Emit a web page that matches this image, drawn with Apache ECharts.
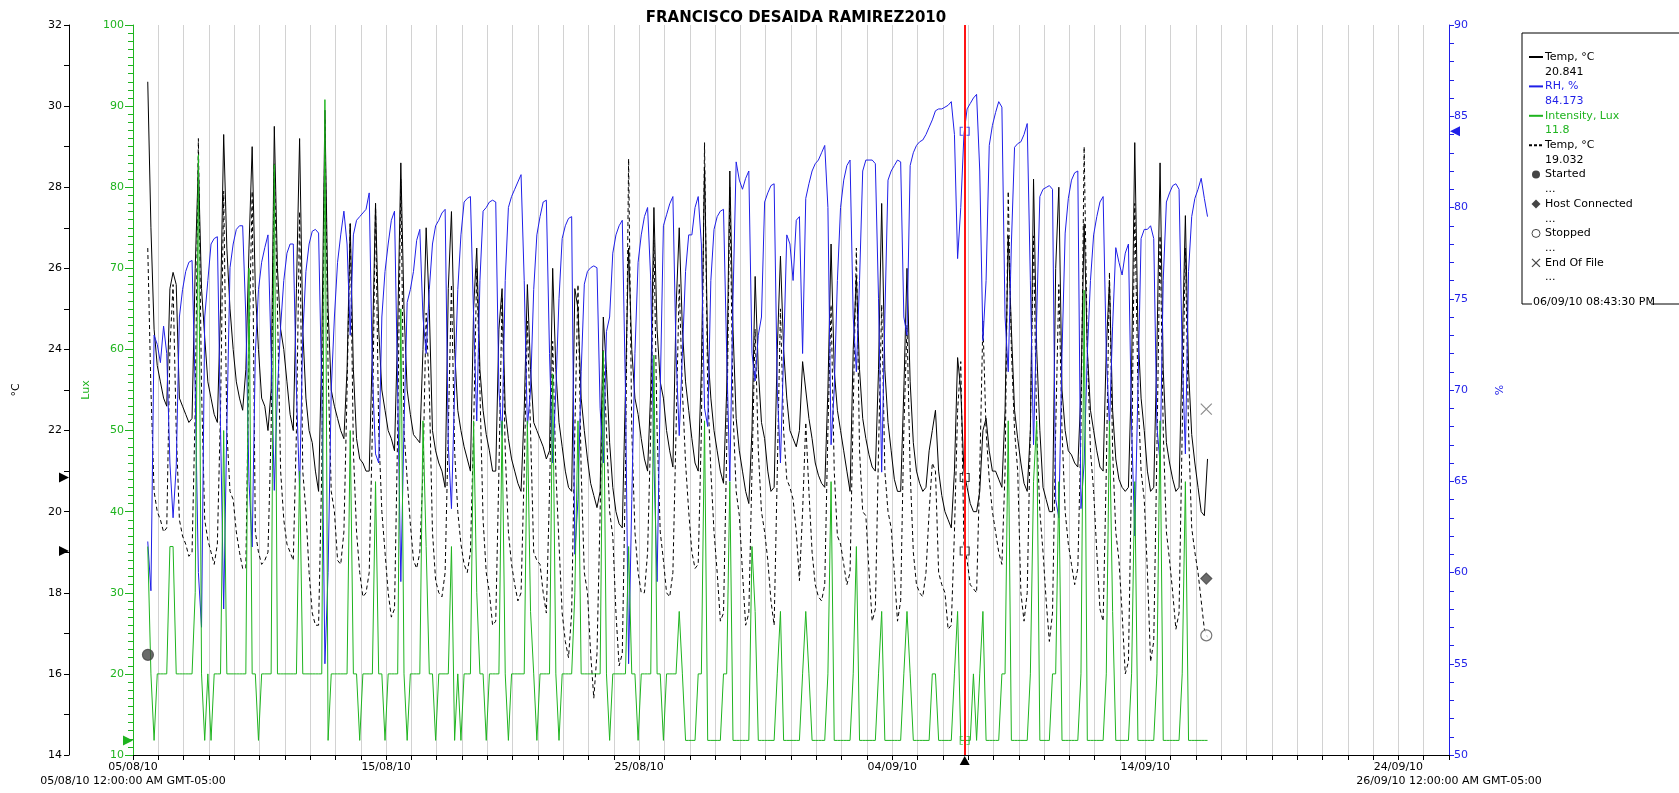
<!DOCTYPE html>
<html>
<head>
<meta charset="utf-8">
<title>FRANCISCO DESAIDA RAMIREZ2010</title>
<script src="https://cdn.jsdelivr.net/npm/echarts@6/dist/echarts.min.js"></script>
<style>
html,body{margin:0;padding:0;background:#fff;}
#chart{width:1679px;height:793px;}
</style>
</head>
<body>
<div id="chart"></div>
<script>
// time base: x axis counts days from 05/08/10 00:00
var startDate = new Date(2010, 7, 5);
var endDay = 52;                       // 26/09/10
var firstSample = 14 / 24;             // first reading 05/08 2 PM
var stepDays = 3 / 24;                 // one value every 3 hours
var cursorTime = new Date(2010, 8, 6, 20, 43, 30);
var cursorDay = (cursorTime - startDate) / 864e5;

// readings at the cursor (legend box)
var cursorTemp = 20.841, cursorRH = 84.173, cursorLux = 11.8, cursorTemp2 = 19.032;

// one row per calendar day, hours 02 05 08 11 14 17 20 23 (first day from 14h, last day to 11h)
var tempRows = [
  [30.6, 27.0, 24.5, 23.6],
  [23.2, 22.8, 22.6, 25.5, 25.9, 25.6, 22.8, 22.6],
  [22.4, 22.2, 22.3, 26.0, 28.6, 25.5, 24.3, 23.2],
  [22.8, 22.4, 22.2, 25.0, 29.3, 26.5, 25.0, 24.0],
  [23.2, 22.8, 22.5, 23.5, 26.5, 29.0, 25.5, 24.0],
  [22.8, 22.6, 22.0, 23.0, 29.5, 26.0, 24.5, 24.0],
  [23.2, 22.4, 22.0, 25.5, 29.2, 24.5, 22.8, 22.0],
  [21.7, 21.0, 20.5, 24.0, 29.9, 25.0, 23.0, 22.6],
  [22.3, 22.0, 21.8, 23.5, 27.1, 23.5, 21.8, 21.3],
  [21.2, 21.0, 21.0, 24.0, 27.6, 24.5, 23.0, 22.5],
  [22.0, 21.8, 21.5, 24.5, 28.6, 25.0, 23.0, 22.4],
  [21.9, 21.8, 21.7, 24.0, 27.0, 25.0, 22.0, 21.5],
  [21.2, 21.0, 20.6, 25.5, 27.4, 24.0, 22.5, 22.0],
  [21.6, 21.3, 21.0, 25.0, 26.5, 23.5, 22.5, 21.9],
  [21.5, 21.0, 21.0, 24.5, 25.5, 22.5, 21.8, 21.3],
  [21.0, 20.7, 20.5, 22.5, 25.6, 23.5, 22.2, 22.0],
  [21.8, 21.6, 21.3, 21.5, 26.0, 23.5, 22.2, 21.6],
  [21.0, 20.6, 20.5, 25.5, 25.0, 22.8, 22.0, 21.3],
  [20.7, 20.4, 20.1, 20.5, 24.8, 23.5, 21.7, 20.6],
  [20.0, 19.7, 19.6, 23.0, 26.5, 24.0, 22.8, 22.4],
  [21.8, 21.3, 21.0, 23.0, 27.5, 24.5, 23.2, 22.8],
  [22.0, 21.5, 21.1, 25.0, 27.0, 24.5, 23.2, 22.5],
  [21.8, 21.2, 21.0, 23.5, 28.5, 24.0, 22.8, 22.0],
  [21.5, 21.0, 20.7, 23.0, 28.4, 24.5, 22.3, 21.5],
  [21.0, 20.5, 20.2, 22.0, 25.8, 23.5, 22.2, 21.8],
  [21.0, 20.5, 20.6, 24.0, 26.3, 24.0, 22.8, 22.0],
  [21.8, 21.6, 22.0, 23.7, 23.0, 22.3, 21.8, 21.2],
  [20.9, 20.7, 20.6, 23.0, 26.6, 23.5, 22.5, 22.0],
  [21.5, 21.0, 20.5, 24.0, 25.8, 23.5, 22.3, 21.8],
  [21.4, 21.1, 21.0, 23.5, 27.6, 23.5, 22.2, 21.5],
  [20.8, 20.5, 20.5, 23.0, 26.0, 23.2, 21.7, 21.0],
  [20.7, 20.5, 20.6, 21.5, 22.0, 22.5, 21.0, 20.4],
  [20.0, 19.8, 19.6, 21.0, 23.8, 23.0, 21.0, 20.6],
  [20.2, 20.0, 20.0, 20.5, 22.0, 22.3, 21.5, 21.0],
  [21.0, 20.8, 20.6, 22.5, 26.8, 24.5, 22.5, 21.8],
  [21.2, 20.7, 20.5, 22.0, 28.2, 24.0, 22.0, 20.6],
  [20.3, 20.0, 20.0, 26.0, 28.0, 23.0, 22.0, 21.5],
  [21.4, 21.2, 21.1, 23.0, 27.1, 24.0, 22.5, 22.0],
  [21.5, 21.1, 21.0, 24.0, 25.7, 22.5, 21.3, 20.8],
  [20.6, 20.5, 20.6, 23.5, 29.1, 24.5, 22.8, 22.0],
  [21.0, 20.5, 20.6, 24.0, 28.6, 23.5, 21.7, 21.2],
  [20.8, 20.5, 20.6, 24.0, 27.3, 23.5, 21.9, 21.2],
  [20.6, 20.0, 19.9, 21.3]
];

var temp2Rows = [
  [26.5, 23.0, 20.5, 20.0],
  [19.8, 19.5, 19.6, 24.0, 25.6, 22.0, 19.8, 19.4],
  [19.2, 18.9, 19.0, 22.5, 29.2, 23.0, 19.8, 19.3],
  [19.0, 18.7, 19.2, 22.5, 27.9, 22.0, 20.5, 20.3],
  [19.5, 19.0, 18.6, 18.6, 24.0, 27.9, 19.5, 19.0],
  [18.7, 18.8, 19.0, 22.0, 28.6, 25.0, 21.0, 19.8],
  [19.2, 19.0, 18.8, 22.0, 27.4, 21.0, 20.0, 18.5],
  [17.5, 17.2, 17.2, 21.0, 29.7, 23.5, 20.5, 20.0],
  [18.8, 18.7, 19.5, 23.0, 27.1, 21.5, 19.5, 18.5],
  [17.9, 18.0, 18.5, 22.0, 27.6, 22.0, 20.0, 19.0],
  [18.0, 17.4, 17.6, 22.0, 28.2, 22.0, 20.8, 19.7],
  [18.8, 18.6, 19.0, 21.0, 24.9, 23.0, 19.5, 18.3],
  [18.0, 17.9, 18.5, 22.0, 25.6, 21.5, 20.0, 19.2],
  [18.7, 18.5, 19.0, 22.0, 26.0, 23.0, 19.8, 18.5],
  [18.0, 17.2, 17.3, 21.0, 25.3, 21.5, 19.5, 18.7],
  [18.2, 17.8, 18.0, 21.0, 24.7, 22.0, 19.0, 18.8],
  [18.7, 18.0, 17.5, 20.5, 24.2, 21.0, 19.2, 17.5],
  [16.8, 16.4, 17.5, 22.0, 25.6, 21.0, 18.5, 18.0],
  [16.5, 15.4, 16.5, 20.0, 24.0, 22.0, 20.0, 19.4],
  [17.5, 16.2, 16.5, 21.0, 28.7, 22.0, 19.5, 18.5],
  [18.0, 18.0, 19.0, 22.0, 26.7, 22.0, 19.5, 18.8],
  [18.0, 17.9, 18.5, 22.0, 25.6, 23.0, 21.2, 20.0],
  [19.0, 18.6, 18.7, 22.0, 29.1, 23.0, 21.0, 19.5],
  [18.5, 17.3, 17.5, 21.5, 28.0, 22.5, 20.5, 19.9],
  [18.5, 17.2, 17.5, 21.0, 24.5, 21.5, 20.0, 19.5],
  [18.8, 17.8, 17.2, 21.0, 25.0, 22.0, 20.8, 20.6],
  [20.3, 19.5, 18.3, 20.0, 22.2, 20.5, 19.0, 18.2],
  [17.9, 17.8, 18.2, 22.0, 25.1, 21.0, 19.4, 19.2],
  [18.7, 18.2, 18.5, 22.5, 26.5, 21.5, 20.0, 19.9],
  [18.5, 17.3, 17.6, 21.5, 25.1, 21.0, 20.0, 19.6],
  [18.5, 17.3, 17.8, 22.0, 24.6, 21.0, 19.0, 18.2],
  [18.0, 17.9, 18.5, 20.0, 21.2, 21.0, 18.5, 18.2],
  [18.0, 17.1, 17.2, 19.5, 22.5, 23.7, 19.2, 18.8],
  [18.2, 18.1, 18.0, 21.0, 24.7, 22.0, 20.8, 20.0],
  [19.5, 19.0, 18.7, 21.0, 27.9, 24.0, 22.0, 21.0],
  [18.0, 17.3, 18.0, 22.0, 26.8, 22.0, 20.0, 19.0],
  [17.8, 16.8, 17.5, 22.0, 25.6, 22.0, 20.0, 19.2],
  [18.7, 18.2, 18.6, 22.0, 29.0, 24.0, 21.5, 20.5],
  [19.0, 17.6, 17.3, 21.0, 25.9, 21.5, 19.5, 18.8],
  [17.5, 16.0, 16.3, 21.0, 27.6, 23.0, 21.0, 20.3],
  [18.5, 16.3, 16.8, 21.5, 26.8, 22.0, 19.5, 18.8],
  [18.0, 17.1, 17.5, 22.0, 26.5, 22.0, 19.6, 19.0],
  [18.5, 17.8, 17.1, 16.9]
];

var rhRows = [
  [61.7, 59.0, 73.0, 72.5],
  [71.5, 73.5, 72.0, 66.0, 63.0, 65.8, 74.0, 75.5],
  [76.5, 77.0, 77.1, 70.0, 60.0, 57.0, 74.0, 76.0],
  [78.0, 78.3, 78.4, 68.0, 58.0, 68.0, 76.7, 78.0],
  [78.8, 79.0, 79.0, 74.0, 65.0, 61.4, 72.0, 75.5],
  [77.0, 77.8, 78.5, 72.0, 64.5, 70.0, 73.5, 76.0],
  [77.5, 78.0, 78.0, 70.0, 64.5, 73.0, 76.5, 78.0],
  [78.7, 78.8, 78.6, 70.0, 55.0, 60.0, 70.0, 74.0],
  [77.0, 78.5, 79.8, 78.0, 73.0, 78.5, 79.3, 79.5],
  [79.7, 79.9, 80.8, 71.0, 66.5, 66.0, 74.0, 76.5],
  [78.0, 79.3, 79.8, 70.0, 59.5, 68.0, 74.8, 75.5],
  [76.5, 78.2, 78.8, 74.0, 72.0, 75.5, 78.0, 79.0],
  [79.3, 79.7, 79.9, 67.0, 63.5, 70.0, 75.5, 78.5],
  [80.3, 80.5, 80.6, 74.0, 68.3, 76.0, 79.8, 80.0],
  [80.3, 80.4, 80.3, 70.0, 67.5, 76.0, 80.0, 80.6],
  [81.0, 81.4, 81.8, 76.0, 68.0, 70.0, 75.5, 78.5],
  [79.5, 80.3, 80.4, 72.0, 66.0, 70.0, 75.0, 78.3],
  [79.0, 79.4, 79.5, 61.0, 64.0, 71.0, 75.8, 76.5],
  [76.7, 76.8, 76.7, 69.0, 66.0, 73.2, 74.0, 77.5],
  [78.5, 79.0, 79.3, 70.0, 55.0, 64.0, 72.0, 77.0],
  [78.5, 79.5, 80.0, 76.0, 66.0, 59.5, 70.0, 79.0],
  [79.6, 80.2, 80.6, 72.0, 67.5, 72.0, 76.5, 78.5],
  [78.5, 80.0, 80.6, 78.0, 69.0, 68.0, 76.0, 78.8],
  [79.5, 79.8, 79.9, 72.0, 65.0, 75.0, 82.5, 81.5],
  [81.0, 81.6, 82.0, 72.0, 70.5, 73.0, 74.0, 80.3],
  [80.8, 81.2, 81.3, 70.0, 66.0, 72.0, 78.5, 78.0],
  [76.0, 79.3, 79.5, 72.0, 80.5, 81.3, 82.0, 82.4],
  [82.6, 83.0, 83.4, 80.0, 67.0, 70.0, 76.0, 80.0],
  [81.5, 82.3, 82.6, 74.0, 71.0, 76.0, 82.0, 82.6],
  [82.6, 82.6, 82.4, 75.0, 65.5, 74.0, 81.5, 82.0],
  [82.3, 82.6, 82.5, 74.0, 73.0, 82.3, 83.0, 83.4],
  [83.6, 83.7, 84.0, 84.4, 84.8, 85.3, 85.4, 85.4],
  [85.5, 85.6, 85.8, 84.0, 77.2, 80.0, 84.0, 85.4],
  [85.7, 86.0, 86.2, 82.0, 72.7, 76.0, 83.4, 84.5],
  [85.2, 85.8, 85.5, 74.0, 71.0, 78.0, 83.3, 83.5],
  [83.6, 84.0, 84.6, 76.0, 67.0, 74.0, 80.6, 81.0],
  [81.1, 81.2, 81.0, 64.0, 63.0, 72.0, 78.6, 80.5],
  [81.5, 81.9, 82.0, 63.5, 66.0, 72.0, 76.0, 78.5],
  [79.5, 80.3, 80.6, 72.0, 68.0, 73.5, 77.8, 77.0],
  [76.3, 77.5, 78.0, 68.0, 62.0, 70.0, 78.3, 78.8],
  [78.8, 79.0, 78.3, 68.0, 66.0, 76.0, 80.3, 80.8],
  [81.2, 81.3, 81.0, 72.0, 66.5, 76.5, 79.5, 80.5],
  [81.0, 81.6, 80.5, 79.5]
];

var luxRows = [
  [35.7, 20, 11.8, 20],
  [20, 20, 20, 35.7, 35.7, 20, 20, 20],
  [20, 20, 20, 30, 84.0, 20, 11.8, 20],
  [11.8, 20, 20, 20, 50.0, 20, 20, 20],
  [20, 20, 20, 20, 70.0, 20, 20, 11.8],
  [20, 20, 20, 20, 82.8, 20, 20, 20],
  [20, 20, 20, 20, 45.0, 20, 20, 20],
  [20, 20, 20, 20, 90.8, 11.8, 20, 20],
  [20, 20, 20, 20, 50.0, 20, 20, 11.8],
  [20, 20, 20, 20, 43.7, 20, 20, 11.8],
  [20, 20, 20, 20, 65.0, 20, 11.8, 20],
  [20, 20, 20, 51.2, 35.7, 20, 20, 11.8],
  [20, 20, 20, 20, 35.7, 11.8, 20, 11.8],
  [20, 20, 20, 51.2, 30.0, 20, 20, 11.8],
  [20, 20, 20, 20, 51.2, 20, 11.8, 20],
  [20, 20, 20, 20, 51.2, 27.7, 20, 11.8],
  [20, 20, 20, 20, 57.0, 20, 11.8, 20],
  [20, 20, 20, 30.0, 51.2, 20, 20, 20],
  [20, 20, 20, 20, 59.8, 20, 11.8, 20],
  [20, 20, 20, 20, 35.7, 20, 20, 11.8],
  [20, 20, 20, 20, 59.3, 20, 20, 11.8],
  [20, 20, 20, 20, 27.7, 20, 11.8, 11.8],
  [11.8, 11.8, 20, 20, 51.2, 11.8, 11.8, 11.8],
  [11.8, 11.8, 20, 20, 43.7, 11.8, 11.8, 11.8],
  [11.8, 11.8, 11.8, 35.7, 27.7, 11.8, 11.8, 11.8],
  [11.8, 11.8, 11.8, 20, 27.7, 11.8, 11.8, 11.8],
  [11.8, 11.8, 11.8, 20, 27.7, 20, 11.8, 11.8],
  [11.8, 11.8, 11.8, 20, 43.7, 11.8, 11.8, 11.8],
  [11.8, 11.8, 11.8, 20, 35.7, 11.8, 11.8, 11.8],
  [11.8, 11.8, 11.8, 20, 27.7, 11.8, 11.8, 11.8],
  [11.8, 11.8, 11.8, 20, 27.7, 20, 11.8, 11.8],
  [11.8, 11.8, 11.8, 11.8, 20, 20, 11.8, 11.8],
  [11.8, 11.8, 11.8, 20, 27.7, 11.8, 11.8, 11.8],
  [11.8, 20, 11.8, 20, 27.7, 11.8, 11.8, 11.8],
  [11.8, 11.8, 20, 20, 51.2, 11.8, 11.8, 11.8],
  [11.8, 11.8, 11.8, 20, 43.7, 51.2, 11.8, 11.8],
  [11.8, 11.8, 20, 20, 43.7, 11.8, 11.8, 11.8],
  [11.8, 11.8, 11.8, 20, 67.3, 11.8, 11.8, 11.8],
  [11.8, 11.8, 11.8, 20, 51.2, 27.7, 11.8, 11.8],
  [11.8, 11.8, 11.8, 20, 43.7, 11.8, 11.8, 11.8],
  [11.8, 11.8, 11.8, 20, 51.2, 11.8, 11.8, 11.8],
  [11.8, 11.8, 11.8, 20, 43.7, 11.8, 11.8, 11.8],
  [11.8, 11.8, 11.8, 11.8]
];

// logger events, plotted on the °C scale
var eventNames = ['Started', 'Host Connected', 'Stopped', 'End Of File'];
var eventDays = [0.59, 42.41, 42.41, 42.41];
var eventTemps = [16.47, 18.35, 16.95, 22.53];

var cBlack = '#000000', cBlue = '#1f1fe8', cGreen = '#1fb41f', cRed = '#ff1515';
var cGrid = '#d2d2d2', cEvent = '#454545';
var font = 'DejaVu Sans';
var gridLeft = 133, gridRight = 230, gridTop = 25, gridBottom = 38;
var tempAxisOffset = 64;

function pad(n){ return (n < 10 ? '0' : '') + n; }
function dayLabel(d){
	var t = new Date(startDate.getTime());
	t.setDate(t.getDate() + d);
	return pad(t.getDate()) + '/' + pad(t.getMonth() + 1) + '/' + String(t.getFullYear()).slice(2);
}
function toPoints(rows){
	var vals = [].concat.apply([], rows);
	return vals.map(function(v, i){ return [firstSample + i * stepDays, v]; });
}
function lineSeries(name, rows, axis, color, dash){
	return {
		name: name, type: 'line', yAxisIndex: axis, data: toPoints(rows),
		showSymbol: false, symbol: 'none',
		lineStyle: {color: color, width: 1, type: dash || 'solid'},
		itemStyle: {color: color}
	};
}
function eventSeries(i, symbol, fill, stroke){
	return {
		name: eventNames[i], type: 'scatter', yAxisIndex: 0, z: 5,
		symbol: symbol, symbolSize: 11,
		itemStyle: {color: fill, borderColor: stroke, borderWidth: 1.2},
		data: [[eventDays[i], eventTemps[i]]]
	};
}
var bracket = 'path://M3,0L0,0L0,8L3,8M7,0L10,0L10,8L7,8';
function cursorMark(axis, v, color){
	return {
		type: 'scatter', yAxisIndex: axis, z: 6, symbol: bracket, symbolSize: [9, 8],
		itemStyle: {color: 'rgba(0,0,0,0)', borderColor: color, borderWidth: 1},
		data: [[cursorDay, v]]
	};
}

var myChart = echarts.init(document.getElementById('chart'));

var series = [
	lineSeries('Temp, °C', tempRows, 0, cBlack),
	lineSeries('Temp, °C ', temp2Rows, 0, cBlack, [4, 3]),
	lineSeries('RH, %', rhRows, 2, cBlue),
	lineSeries('Intensity, Lux', luxRows, 1, cGreen),
	eventSeries(0, 'circle', cEvent, cEvent),
	eventSeries(1, 'diamond', cEvent, cEvent),
	eventSeries(2, 'circle', '#ffffff', '#555555'),
	eventSeries(3, 'path://M0,0L10,10M10,0L0,10', 'rgba(0,0,0,0)', '#707070'),
	cursorMark(0, cursorTemp, cBlack),
	cursorMark(0, cursorTemp2, cBlack),
	cursorMark(2, cursorRH, cBlue),
	cursorMark(1, cursorLux, cGreen)
];
series[3].markLine = {
	silent: true, symbol: 'none', label: {show: false}, animation: false,
	lineStyle: {color: cRed, width: 2, type: 'solid'},
	data: [{xAxis: cursorDay}]
};
series[3].z = 4;

var option = {
	animation: false,
	textStyle: {fontFamily: font},
	title: {
		text: 'FRANCISCO DESAIDA RAMIREZ2010',
		left: gridLeft + (1679 - gridLeft - gridRight) / 2, top: 6, textAlign: 'center',
		textStyle: {fontFamily: font, fontSize: 15, fontWeight: 'bold', color: cBlack}
	},
	grid: {left: gridLeft, right: gridRight, top: gridTop, bottom: gridBottom, containLabel: false},
	xAxis: [{
		type: 'value', min: 0, max: endDay, interval: 1,
		axisLine: {show: true, onZero: false, lineStyle: {color: cBlack}},
		axisTick: {show: true, length: 5, lineStyle: {color: cBlack}},
		axisLabel: {color: cBlack, fontSize: 11, margin: 7, fontFamily: font,
			formatter: function(v){ return v % 10 === 0 ? dayLabel(v) : ''; }},
		splitLine: {show: true, lineStyle: {color: cGrid, width: 1}}
	}, {
		type: 'value', min: 0, max: 1, interval: 1, position: 'bottom', offset: 14,
		axisLine: {show: false, onZero: false}, axisTick: {show: false}, splitLine: {show: false},
		axisLabel: {color: cBlack, fontSize: 11, margin: 7, fontFamily: font,
			formatter: function(v){ return dayLabel(v === 0 ? 0 : endDay) + ' 12:00:00 AM GMT-05:00'; }}
	}],
	yAxis: [{
		type: 'value', position: 'left', offset: tempAxisOffset, min: 14, max: 32, interval: 2,
		name: '°C', nameLocation: 'middle', nameGap: 47, nameRotate: 90,
		nameTextStyle: {color: cBlack, fontSize: 11, fontFamily: font},
		axisLine: {show: true, onZero: false, lineStyle: {color: cBlack}},
		axisTick: {show: true, length: 5, lineStyle: {color: cBlack}},
		minorTick: {show: true, splitNumber: 2, length: 5, lineStyle: {color: cBlack}},
		axisLabel: {color: cBlack, fontSize: 11, margin: 7, fontFamily: font},
		splitLine: {show: false}
	}, {
		type: 'value', position: 'left', offset: 0, min: 10, max: 100, interval: 10,
		name: 'Lux', nameLocation: 'middle', nameGap: 40, nameRotate: 90,
		nameTextStyle: {color: cGreen, fontSize: 11, fontFamily: font},
		axisLine: {show: true, onZero: false, lineStyle: {color: cGreen}},
		axisTick: {show: true, length: 8, lineStyle: {color: cGreen}},
		minorTick: {show: true, splitNumber: 10, length: 5, lineStyle: {color: cGreen}},
		axisLabel: {color: cGreen, fontSize: 11, margin: 9, fontFamily: font},
		splitLine: {show: false}
	}, {
		type: 'value', position: 'right', offset: 0, min: 50, max: 90, interval: 5,
		name: '%', nameLocation: 'middle', nameGap: 46, nameRotate: 90,
		nameTextStyle: {color: cBlue, fontSize: 11, fontFamily: font},
		axisLine: {show: true, onZero: false, lineStyle: {color: cBlue}},
		axisTick: {show: true, length: 5, lineStyle: {color: cBlue}},
		minorTick: {show: true, splitNumber: 5, length: 5, lineStyle: {color: cBlue}},
		axisLabel: {color: cBlue, fontSize: 11, margin: 5, fontFamily: font},
		splitLine: {show: false}
	}],
	series: series
};
myChart.setOption(option);

// axis readout triangles and the legend box
function tri(tipX, tipY, dir, color){
	var p;
	if (dir === 'right') p = [[tipX - 10, tipY - 5], [tipX, tipY], [tipX - 10, tipY + 5]];
	else if (dir === 'left') p = [[tipX + 10, tipY - 5], [tipX, tipY], [tipX + 10, tipY + 5]];
	else p = [[tipX - 5, tipY + 9], [tipX, tipY], [tipX + 5, tipY + 9]];
	return {type: 'polygon', shape: {points: p}, style: {fill: color}, z: 10};
}
var plotRight = 1679 - gridRight, plotBottom = 793 - gridBottom;
var graphics = [
	tri(gridLeft - tempAxisOffset, myChart.convertToPixel({yAxisIndex: 0}, cursorTemp), 'right', cBlack),
	tri(gridLeft - tempAxisOffset, myChart.convertToPixel({yAxisIndex: 0}, cursorTemp2), 'right', cBlack),
	tri(gridLeft, myChart.convertToPixel({yAxisIndex: 1}, cursorLux), 'right', cGreen),
	tri(plotRight + 1, myChart.convertToPixel({yAxisIndex: 2}, cursorRH), 'left', cBlue),
	tri(myChart.convertToPixel({xAxisIndex: 0}, cursorDay), plotBottom + 1, 'up', cBlack)
];

var lgLeft = 1522, lgTop = 33, lgBottom = 304, lgMarkX = 1536, lgTextX = 1545, lgRow0 = 57, lgStep = 14.7;
var lgFont = '11px "DejaVu Sans"';
var legendItems = [
	{mark: 'line', color: cBlack, label: 'Temp, °C', value: String(cursorTemp)},
	{mark: 'line', color: cBlue, label: 'RH, %', value: String(cursorRH)},
	{mark: 'line', color: cGreen, label: 'Intensity, Lux', value: String(cursorLux)},
	{mark: 'dash', color: cBlack, label: 'Temp, °C', value: String(cursorTemp2)},
	{mark: 'dot', color: cBlack, label: eventNames[0], value: '...'},
	{mark: 'diamond', color: cBlack, label: eventNames[1], value: '...'},
	{mark: 'ring', color: cBlack, label: eventNames[2], value: '...'},
	{mark: 'cross', color: cBlack, label: eventNames[3], value: '...'}
];
function txt(x, y, s, color){
	return {type: 'text', x: x, y: y, style: {text: s, fill: color, font: lgFont, verticalAlign: 'middle', align: 'left'}};
}
legendItems.forEach(function(it, i){
	var y = lgRow0 + i * 2 * lgStep;
	if (it.mark === 'line' || it.mark === 'dash') {
		graphics.push({type: 'line', shape: {x1: 1529, y1: y, x2: 1543, y2: y},
			style: {stroke: it.color, lineWidth: 2, lineDash: it.mark === 'dash' ? [3, 2] : null}});
	} else if (it.mark === 'dot') {
		graphics.push({type: 'circle', shape: {cx: lgMarkX, cy: y, r: 4}, style: {fill: cEvent}});
	} else if (it.mark === 'diamond') {
		graphics.push({type: 'polygon', shape: {points: [[lgMarkX, y - 4.5], [lgMarkX + 4.5, y], [lgMarkX, y + 4.5], [lgMarkX - 4.5, y]]}, style: {fill: cEvent}});
	} else if (it.mark === 'ring') {
		graphics.push({type: 'circle', shape: {cx: lgMarkX, cy: y, r: 4}, style: {fill: '#fff', stroke: cEvent, lineWidth: 1}});
	} else {
		graphics.push({type: 'polyline', shape: {points: [[lgMarkX - 4, y - 4], [lgMarkX + 4, y + 4]]}, style: {stroke: cEvent, lineWidth: 1.2}});
		graphics.push({type: 'polyline', shape: {points: [[lgMarkX + 4, y - 4], [lgMarkX - 4, y + 4]]}, style: {stroke: cEvent, lineWidth: 1.2}});
	}
	graphics.push(txt(lgTextX, y, it.label, it.color));
	graphics.push(txt(lgTextX, y + lgStep, it.value, it.color));
});
var cursorText = pad(cursorTime.getDate()) + '/' + pad(cursorTime.getMonth() + 1) + '/' + String(cursorTime.getFullYear()).slice(2) +
	' 08:43:30 PM';
graphics.push(
	{type: 'line', shape: {x1: lgLeft, y1: lgTop, x2: 1679, y2: lgTop}, style: {stroke: cBlack, lineWidth: 1}},
	{type: 'line', shape: {x1: lgLeft, y1: lgTop, x2: lgLeft, y2: lgBottom}, style: {stroke: cBlack, lineWidth: 1}},
	{type: 'line', shape: {x1: lgLeft, y1: lgBottom, x2: lgLeft + 10, y2: lgBottom}, style: {stroke: cBlack, lineWidth: 1}},
	{type: 'line', shape: {x1: 1651, y1: lgBottom, x2: 1679, y2: lgBottom}, style: {stroke: cBlack, lineWidth: 1}},
	txt(lgLeft + 11, lgBottom - 2, cursorText, cBlack)
);
myChart.setOption({graphic: graphics});
</script>
</body>
</html>
